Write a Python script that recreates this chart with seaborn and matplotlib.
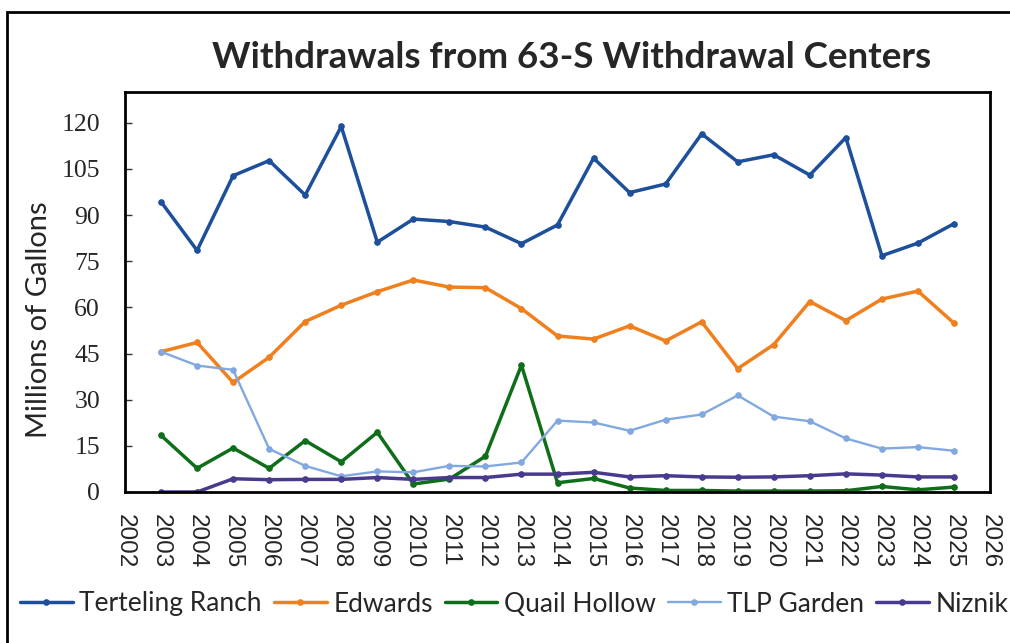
import matplotlib
matplotlib.use("Agg")
import matplotlib.pyplot as plt
from matplotlib.patches import Rectangle
import numpy as np
import pandas as pd
import seaborn as sns

# Annual withdrawals (millions of gallons) per withdrawal center
years = list(range(2003, 2026))
terteling_ranch = [94.3, 78.5, 102.8, 107.7, 96.5, 118.8, 81.2, 88.7, 87.9, 86.1, 80.7, 86.8,
                   108.5, 97.3, 100.1, 116.4, 107.3, 109.6, 103.0, 115.2, 76.8, 80.9, 87.2]
edwards = [45.6, 48.6, 35.6, 43.8, 55.4, 60.7, 65.1, 68.9, 66.6, 66.4, 59.6, 50.7,
           49.7, 54.0, 49.1, 55.3, 40.1, 47.9, 61.9, 55.7, 62.7, 65.3, 54.9]
quail_hollow = [18.4, 7.7, 14.3, 7.7, 16.7, 9.8, 19.4, 2.6, 4.2, 11.6, 41.2, 3.0,
                4.4, 1.3, 0.5, 0.5, 0.3, 0.3, 0.3, 0.4, 1.8, 0.7, 1.6]
tlp_garden = [45.6, 41.1, 39.7, 14.0, 8.5, 5.1, 6.7, 6.4, 8.5, 8.3, 9.6, 23.2,
              22.6, 19.9, 23.5, 25.2, 31.4, 24.5, 23.0, 17.4, 14.1, 14.6, 13.4]
niznik = [0.0, 0.0, 4.3, 4.0, 4.1, 4.1, 4.7, 4.1, 4.7, 4.7, 5.8, 5.8,
          6.4, 4.9, 5.3, 4.9, 4.8, 4.9, 5.3, 5.9, 5.5, 4.9, 4.9]

series_names = ["Terteling Ranch", "Edwards", "Quail Hollow", "TLP Garden", "Niznik"]
series_values = [terteling_ranch, edwards, quail_hollow, tlp_garden, niznik]
colors = ["#1d4f9a", "#f07f1e", "#0f6e1a", "#82a8e0", "#4a3a8e"]

x_ticks = list(range(2002, 2027))
y_ticks = list(range(0, 121, 15))

df = pd.DataFrame({
    "Year": np.tile(years, len(series_names)),
    "Withdrawal": np.concatenate(series_values),
    "Center": np.repeat(series_names, len(years)),
})

sns.set_theme(style="white")
plt.rcParams["font.family"] = ["Lato", "DejaVu Sans"]

W, H = 1010, 643
fig = plt.figure(figsize=(W / 100, H / 100), dpi=100)
ax = fig.add_axes([125 / W, 1 - 492 / H, (990 - 125) / W, (492 - 92) / H])

for name, color in zip(series_names, colors):
    sub = df[df["Center"] == name]
    lw = 1.7 if name == "TLP Garden" else 2.5
    sns.lineplot(data=sub, x="Year", y="Withdrawal", ax=ax, color=color, linewidth=lw,
                 marker="o", markersize=5.5, markeredgecolor=color, label=name,
                 legend=False, errorbar=None)

ax.set_xlim(2002, 2026)
ax.set_ylim(0, 130)
ax.set_xticks(x_ticks)
ax.set_xticklabels([str(y) for y in x_ticks], rotation=270,
                   fontfamily="Liberation Sans", fontsize=17.5)
ax.set_yticks(y_ticks)
ax.set_yticklabels([str(v) for v in y_ticks], fontfamily="Liberation Serif", fontsize=18.5)
ax.tick_params(axis="y", direction="in", length=5, width=1, color="#333333", pad=18, left=True)
ax.tick_params(axis="x", length=0, pad=16)
ax.set_xlabel("")
ax.set_ylabel("Millions of Gallons", fontsize=21)
ax.yaxis.set_label_coords(-0.084, 0.43)
ax.grid(False)
for sp in ax.spines.values():
    sp.set_visible(True)
    sp.set_color("black")
    sp.set_linewidth(2)

fig.text(572 / W, 1 - 57 / H, "Withdrawals from 63-S Withdrawal Centers",
         ha="center", va="center", fontsize=26.5, fontweight="bold")

handles, labels = ax.get_legend_handles_labels()
for h in handles:
    h.set_markersize(4)
fig.legend(handles, labels, loc="center left", bbox_to_anchor=(20 / W, 1 - 604 / H),
           ncol=5, frameon=False, fontsize=19, handlelength=2.0, handletextpad=0.25,
           columnspacing=0.45, borderpad=0, borderaxespad=0)

# Outer chart border
fig.add_artist(Rectangle((7 / W, -0.05), 1.05, 1 - 12 / H + 0.05, transform=fig.transFigure,
                         fill=False, edgecolor="black", linewidth=2, clip_on=False))

fig.savefig("out.png", dpi=100)
